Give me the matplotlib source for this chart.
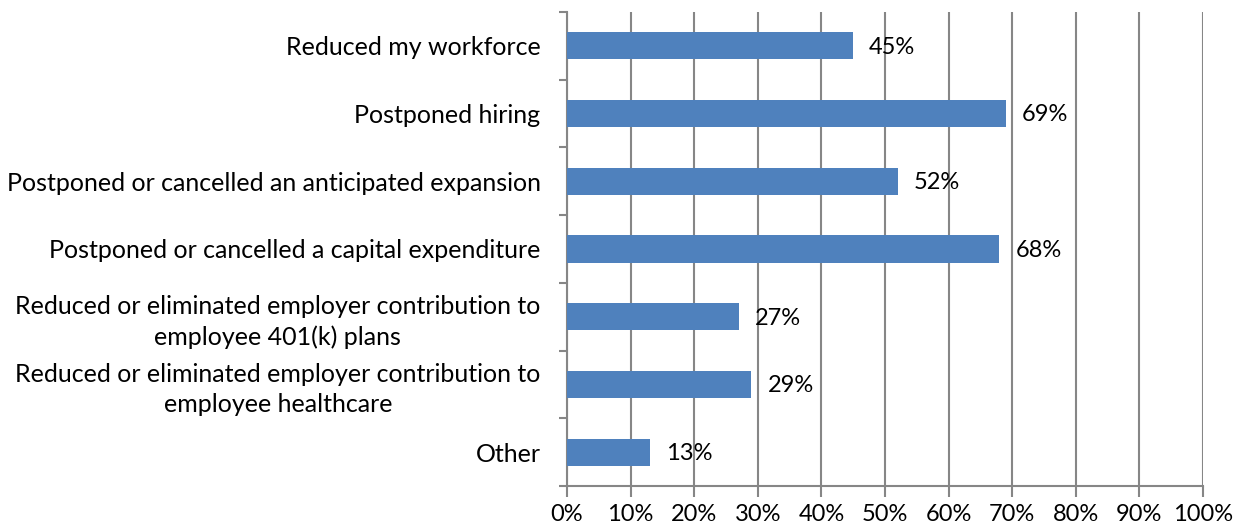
import matplotlib.pyplot as plt
import numpy as np
from matplotlib.ticker import FuncFormatter, FixedLocator

categories = [
    "Reduced my workforce",
    "Postponed hiring",
    "Postponed or cancelled an anticipated expansion",
    "Postponed or cancelled a capital expenditure",
    "Reduced or eliminated employer contribution to\nemployee 401(k) plans",
    "Reduced or eliminated employer contribution to\nemployee healthcare",
    "Other",
]
values = [45, 69, 52, 68, 27, 29, 13]

BAR_COLOR = "#4F81BD"
GRID_COLOR = "#868686"
FONT = ["Lato", "DejaVu Sans"]

plt.rcParams["font.family"] = FONT

fig = plt.figure(figsize=(12.42, 5.29), dpi=100)
ax = fig.add_axes([567 / 1242, 1 - 486 / 529, 636 / 1242, 474 / 529])

n = len(categories)
y = np.arange(n)
ax.barh(y, values, height=0.4, color=BAR_COLOR, zorder=3)

for yi, v in zip(y, values):
    ax.annotate(f"{v}%", (v, yi), xytext=(11.5, -1), textcoords="offset points",
                ha="left", va="center", fontsize=17, color="#000", zorder=4)

ax.set_xlim(0, 100)
ax.set_ylim(n - 0.5, -0.5)

ax.set_xticks(np.arange(0, 101, 10))
ax.xaxis.set_major_formatter(FuncFormatter(lambda v, _: f"{v:.0f}%"))
ax.grid(axis="x", color=GRID_COLOR, linewidth=1.5, zorder=0)

# category labels at centres, tick marks at band boundaries
ax.set_yticks(y)
ax.set_yticklabels(categories, fontsize=18, multialignment="center",
                   linespacing=1.35)
ax.yaxis.set_minor_locator(FixedLocator(np.arange(-0.5, n, 1)))
ax.tick_params(axis="y", which="major", length=0, pad=19)
ax.tick_params(axis="y", which="minor", length=6, width=1.5, color=GRID_COLOR)
ax.tick_params(axis="x", which="major", length=8, width=1.5, color=GRID_COLOR,
               labelsize=17, pad=5)

for side in ("top", "right"):
    ax.spines[side].set_visible(False)
for side in ("left", "bottom"):
    ax.spines[side].set_color(GRID_COLOR)
    ax.spines[side].set_linewidth(1.5)

fig.savefig("out.png", dpi=100)
